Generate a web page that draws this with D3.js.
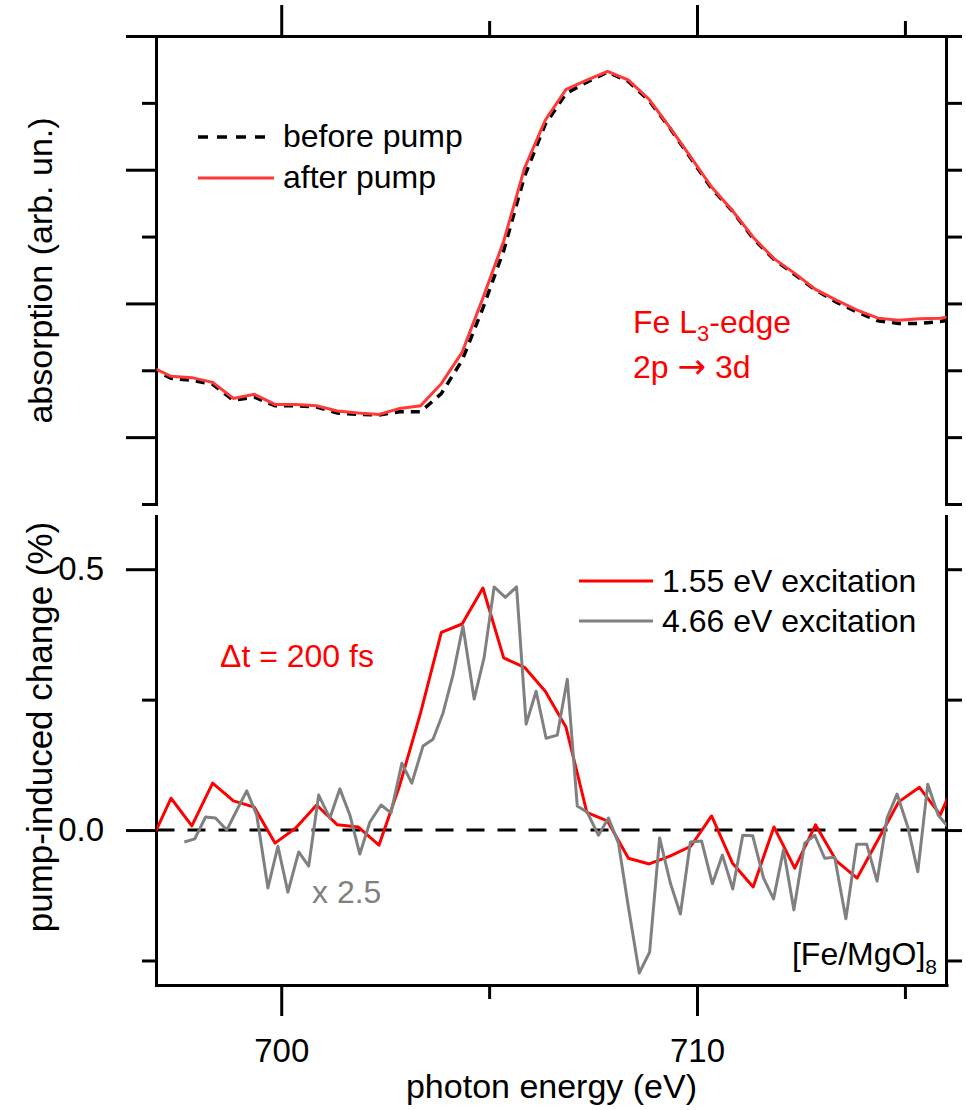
<!DOCTYPE html>
<html>
<head>
<meta charset="utf-8">
<script src="https://cdn.jsdelivr.net/npm/d3@7"></script>
<style>
  body { margin: 0; background: #fff; }
  svg { display: block; font-family: "Liberation Sans", Arial, sans-serif; }
  .axis .domain, .axis .tick line { stroke: #000; stroke-width: 3; }
  .axis .domain { stroke-linecap: square; }
  .axis text { font-size: 33px; fill: #000; font-family: "Liberation Sans", Arial, sans-serif; }
</style>
</head>
<body>
<svg id="chart" width="966" height="1110"></svg>
<script>
// energy grid of the absorption scans and the 1.55 eV difference (eV)
const energyA = [696.85, 697.35, 697.85, 698.35, 698.85, 699.35, 699.85, 700.35, 700.85, 701.35,
                 701.85, 702.35, 702.85, 703.35, 703.85, 704.35, 704.85, 705.35, 705.85, 706.35,
                 706.85, 707.35, 707.85, 708.35, 708.85, 709.35, 709.85, 710.35, 710.85, 711.35,
                 711.85, 712.35, 712.85, 713.35, 713.85, 714.35, 714.85, 715.35, 715.85, 716.35];

// absorption (arb. un.)
const beforePump = [2.03, 1.88, 1.85, 1.79, 1.55, 1.60, 1.47, 1.47, 1.45, 1.36,
                    1.34, 1.33, 1.38, 1.38, 1.65, 2.15, 2.93, 3.79, 4.90, 5.68,
                    6.14, 6.31, 6.46, 6.32, 6.03, 5.62, 5.17, 4.72, 4.38, 3.97,
                    3.66, 3.43, 3.20, 3.02, 2.87, 2.74, 2.70, 2.70, 2.73, 2.78];
const afterPump = [2.06, 1.91, 1.89, 1.82, 1.58, 1.64, 1.49, 1.49, 1.47, 1.39,
                   1.36, 1.34, 1.43, 1.47, 1.80, 2.27, 3.08, 3.93, 5.02, 5.74,
                   6.20, 6.34, 6.47, 6.34, 6.05, 5.63, 5.19, 4.74, 4.39, 3.99,
                   3.67, 3.45, 3.21, 3.05, 2.90, 2.78, 2.75, 2.77, 2.78, 2.83];

// pump-induced change (%), 1.55 eV excitation
const change155 = [-0.025, 0.061, 0.008, 0.090, 0.056, 0.044, -0.025, 0.004, 0.048, 0.010,
                   0.006, -0.029, 0.086, 0.224, 0.379, 0.395, 0.464, 0.330, 0.312, 0.266,
                   0.197, 0.034, 0.017, -0.054, -0.065, -0.050, -0.031, 0.027, -0.063, -0.109,
                   0.006, -0.073, 0.010, -0.059, -0.092, -0.019, 0.054, 0.082, 0.029, 0.120];

// 4.66 eV excitation (already scaled x 2.5)
const energyB = [697.67, 697.92, 698.18, 698.42, 698.69, 698.93, 699.17, 699.41, 699.68, 699.92,
                 700.16, 700.42, 700.66, 700.90, 701.17, 701.41, 701.65, 701.89, 702.13, 702.40,
                 702.64, 702.90, 703.14, 703.41, 703.65, 703.89, 704.13, 704.37, 704.64, 704.88,
                 705.12, 705.39, 705.66, 705.89, 706.13, 706.37, 706.64, 706.88, 707.12, 707.36,
                 707.63, 707.87, 708.11, 708.35, 708.61, 708.86, 709.10, 709.36, 709.60, 709.84,
                 710.11, 710.37, 710.61, 710.86, 711.10, 711.34, 711.60, 711.84, 712.08, 712.33,
                 712.59, 712.83, 713.07, 713.31, 713.58, 713.84, 714.08, 714.33, 714.57, 714.81,
                 715.07, 715.31, 715.55, 715.80, 716.04];
const change466 = [-0.023, -0.017, 0.025, 0.023, 0.000, 0.038, 0.075, 0.029, -0.111, -0.031,
                   -0.119, -0.042, -0.069, 0.067, 0.023, 0.079, 0.029, -0.046, 0.015, 0.048,
                   0.033, 0.128, 0.090, 0.161, 0.174, 0.224, 0.297, 0.391, 0.251, 0.331,
                   0.466, 0.446, 0.466, 0.203, 0.266, 0.176, 0.182, 0.289, 0.046, 0.034,
                   -0.010, 0.023, -0.025, -0.148, -0.274, -0.234, -0.015, -0.102, -0.161, -0.023,
                   -0.021, -0.103, -0.048, -0.113, -0.010, -0.011, -0.092, -0.132, -0.038, -0.153,
                   -0.025, -0.010, -0.054, -0.052, -0.170, -0.027, -0.027, -0.098, 0.023, 0.069,
                   0.006, -0.080, 0.088, 0.029, 0.006];

// ticks
const xMajor = [700, 710], xMinor = [705, 715];
const absMajor = [1, 3, 5, 7], absMinor = [0, 2, 4, 6];
const chgMajor = [0, 0.5], chgMinor = [-0.25, 0.25];

const svg = d3.select("#chart");
const left = 156.5, right = 946.5;

const x = d3.scaleLinear().domain([697, 716]).range([left, right]);
const yTop = d3.scaleLinear().domain([0, 7]).range([504, 36]);
const yBot = d3.scaleLinear().domain([-0.297, 0.602]).range([985, 516]);

// clip regions
const defs = svg.append("defs");
defs.append("clipPath").attr("id", "clipTop").append("rect")
    .attr("x", left).attr("y", 36).attr("width", right - left).attr("height", 470);
defs.append("clipPath").attr("id", "clipBot").append("rect")
    .attr("x", left).attr("y", 516).attr("width", right - left).attr("height", 469);

// ---- top panel axes
svg.append("g").attr("class", "axis").attr("transform", "translate(156,0)")
   .call(d3.axisLeft(yTop).tickValues(absMajor).tickSize(30).tickSizeOuter(0).tickFormat(""));
svg.append("g").attr("class", "axis").attr("transform", "translate(156,0)")
   .call(d3.axisLeft(yTop).tickValues(absMinor).tickSize(14).tickSizeOuter(0).tickFormat(""))
   .select(".domain").remove();
svg.append("g").attr("class", "axis").attr("transform", "translate(946,0)")
   .call(d3.axisRight(yTop).tickValues(absMinor.concat(absMajor)).tickSize(16).tickSizeOuter(0).tickFormat(""));
svg.append("g").attr("class", "axis").attr("transform", "translate(0,36)")
   .call(d3.axisTop(x).tickValues(xMajor).tickSize(31).tickSizeOuter(0).tickFormat(""));
svg.append("g").attr("class", "axis").attr("transform", "translate(0,36)")
   .call(d3.axisTop(x).tickValues(xMinor).tickSize(15).tickSizeOuter(0).tickFormat(""))
   .select(".domain").remove();

// ---- bottom panel axes
svg.append("g").attr("class", "axis").attr("transform", "translate(156,0)")
   .call(d3.axisLeft(yBot).tickValues(chgMajor).tickSize(30).tickSizeOuter(0)
           .tickPadding(22).tickFormat(d3.format(".1f")));
svg.append("g").attr("class", "axis").attr("transform", "translate(156,0)")
   .call(d3.axisLeft(yBot).tickValues(chgMinor).tickSize(14).tickSizeOuter(0).tickFormat(""))
   .select(".domain").remove();
svg.append("g").attr("class", "axis").attr("transform", "translate(946,0)")
   .call(d3.axisRight(yBot).tickValues(chgMinor.concat(chgMajor)).tickSize(16).tickSizeOuter(0).tickFormat(""));
svg.append("g").attr("class", "axis").attr("transform", "translate(0,985)")
   .call(d3.axisBottom(x).tickValues(xMajor).tickSize(31).tickSizeOuter(0).tickPadding(23));
svg.append("g").attr("class", "axis").attr("transform", "translate(0,985)")
   .call(d3.axisBottom(x).tickValues(xMinor).tickSize(14).tickSizeOuter(0).tickFormat(""))
   .select(".domain").remove();

// axis titles
svg.append("text").attr("x", (left + right) / 2).attr("y", 1098)
   .attr("text-anchor", "middle").style("font-size", "34px")
   .text("photon energy (eV)");
svg.append("text").attr("transform", "translate(52,270.5) rotate(-90)")
   .attr("text-anchor", "middle").style("font-size", "34px")
   .text("absorption (arb. un.)");
svg.append("text").attr("transform", "translate(52,727) rotate(-90)")
   .attr("text-anchor", "middle").style("font-size", "35px")
   .text("pump-induced change (%)");

// ---- top panel curves
const lineTop = d3.line().x((d, i) => x(energyA[i])).y(d => yTop(d));
const topG = svg.append("g").attr("clip-path", "url(#clipTop)");
topG.append("path").datum(beforePump)
    .attr("d", lineTop).attr("fill", "none")
    .attr("stroke", "#000").attr("stroke-width", 3.5).attr("stroke-dasharray", "9,7");
topG.append("path").datum(afterPump)
    .attr("d", lineTop).attr("fill", "none")
    .attr("stroke", "#ff3838").attr("stroke-width", 3);

// top legend
svg.append("line").attr("x1", 198).attr("x2", 274).attr("y1", 137).attr("y2", 137)
   .attr("stroke", "#000").attr("stroke-width", 3.5).attr("stroke-dasharray", "10,9");
svg.append("text").attr("x", 283).attr("y", 147).style("font-size", "32px").text("before pump");
svg.append("line").attr("x1", 198).attr("x2", 274).attr("y1", 178).attr("y2", 178)
   .attr("stroke", "#ff3838").attr("stroke-width", 3);
svg.append("text").attr("x", 283).attr("y", 188).style("font-size", "32px").text("after pump");

const edge = svg.append("text").attr("x", 633).attr("y", 333)
   .style("font-size", "32px").attr("fill", "#ff0000");
edge.append("tspan").text("Fe L");
edge.append("tspan").attr("dy", 8).style("font-size", "22px").text("3");
edge.append("tspan").attr("dy", -8).text("-edge");
const trans = svg.append("text").attr("x", 633).attr("y", 378)
   .style("font-size", "32px").attr("fill", "#ff0000");
trans.append("tspan").text("2p ");
trans.append("tspan").style("font-family", "'DejaVu Sans'").style("font-size", "34px").text("\u2192");
trans.append("tspan").text(" 3d");

// ---- bottom panel curves
const botG = svg.append("g").attr("clip-path", "url(#clipBot)");
botG.append("line").attr("x1", left).attr("x2", right)
    .attr("y1", yBot(0)).attr("y2", yBot(0))
    .attr("stroke", "#000").attr("stroke-width", 3).attr("stroke-dasharray", "18,13");
botG.append("path").datum(change155)
    .attr("d", d3.line().x((d, i) => x(energyA[i])).y(d => yBot(d)))
    .attr("fill", "none").attr("stroke", "#ff0000").attr("stroke-width", 3)
    .attr("stroke-linejoin", "round");
botG.append("path").datum(change466)
    .attr("d", d3.line().x((d, i) => x(energyB[i])).y(d => yBot(d)))
    .attr("fill", "none").attr("stroke", "#808080").attr("stroke-width", 3)
    .attr("stroke-linejoin", "round");

// bottom legend
svg.append("line").attr("x1", 579).attr("x2", 653).attr("y1", 581).attr("y2", 581)
   .attr("stroke", "#ff0000").attr("stroke-width", 3);
svg.append("text").attr("x", 662).attr("y", 592).style("font-size", "32px").text("1.55 eV excitation");
svg.append("line").attr("x1", 579).attr("x2", 653).attr("y1", 621).attr("y2", 621)
   .attr("stroke", "#808080").attr("stroke-width", 3);
svg.append("text").attr("x", 662).attr("y", 632).style("font-size", "32px").text("4.66 eV excitation");

svg.append("text").attr("x", 220).attr("y", 667).style("font-size", "32px")
   .attr("fill", "#ff0000").text("\u0394t = 200 fs");
svg.append("text").attr("x", 312).attr("y", 903).style("font-size", "32px")
   .attr("fill", "#808080").text("x 2.5");

const sample = svg.append("text").attr("x", 937).attr("y", 965)
   .attr("text-anchor", "end").style("font-size", "32px");
sample.append("tspan").text("[Fe/MgO]");
sample.append("tspan").attr("dy", 9).style("font-size", "21px").text("8");
</script>
</body>
</html>
